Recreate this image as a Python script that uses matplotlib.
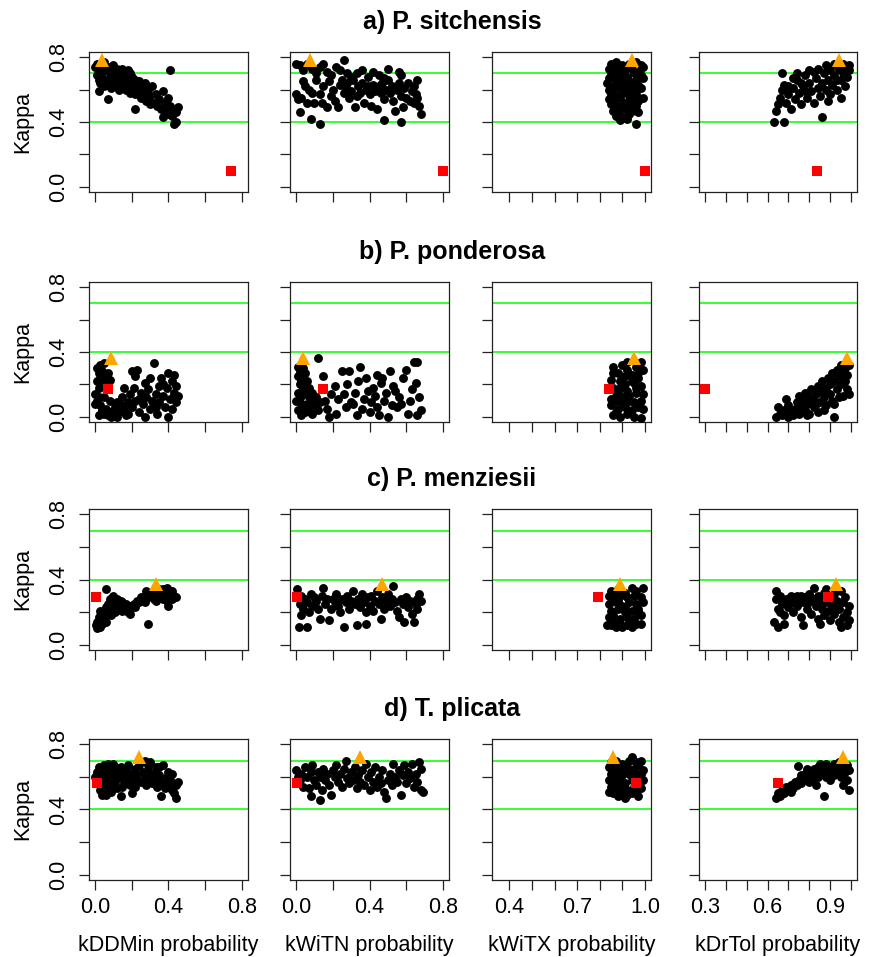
import matplotlib
matplotlib.use("Agg")
import matplotlib.pyplot as plt

plt.rcParams['font.family'] = ['Liberation Sans', 'DejaVu Sans']

# ---- data: (probability, kappa) for each model ----
# a) P. sitchensis
sit_ddmin = [(0.00,0.74),(0.01,0.76),(0.02,0.73),(0.03,0.71),(0.04,0.75),(0.05,0.77),(0.06,0.72),(0.07,0.74),
             (0.08,0.70),(0.09,0.73),(0.10,0.75),(0.11,0.71),(0.12,0.73),(0.13,0.72),(0.14,0.70),(0.15,0.73),
             (0.16,0.71),(0.17,0.69),(0.18,0.72),(0.19,0.70),(0.01,0.69),(0.02,0.66),(0.03,0.64),(0.04,0.68),
             (0.05,0.62),(0.06,0.66),(0.07,0.63),(0.08,0.67),(0.09,0.61),(0.10,0.65),(0.11,0.62),(0.12,0.68),
             (0.13,0.60),(0.14,0.64),(0.15,0.66),(0.16,0.62),(0.17,0.60),(0.18,0.65),(0.19,0.58),(0.20,0.63),
             (0.20,0.68),(0.21,0.61),(0.22,0.66),(0.22,0.57),(0.23,0.62),(0.24,0.59),(0.24,0.65),(0.25,0.55),
             (0.26,0.61),(0.27,0.58),(0.27,0.64),(0.28,0.53),(0.29,0.60),(0.30,0.56),(0.30,0.51),(0.31,0.62),
             (0.32,0.52),(0.33,0.57),(0.34,0.50),(0.35,0.54),(0.36,0.48),(0.37,0.59),(0.37,0.43),(0.38,0.52),
             (0.39,0.47),(0.40,0.55),(0.40,0.45),(0.41,0.50),(0.42,0.44),(0.43,0.48),(0.44,0.40),(0.44,0.46),
             (0.45,0.49),(0.43,0.39),(0.02,0.59),(0.07,0.54),(0.22,0.48),(0.41,0.72)]
sit_witn = [(0.00,0.76),(0.02,0.75),(0.04,0.72),(0.06,0.76),(0.09,0.73),(0.11,0.70),(0.13,0.74),(0.15,0.76),
            (0.17,0.71),(0.19,0.69),(0.22,0.74),(0.24,0.72),(0.26,0.78),(0.28,0.70),(0.30,0.68),(0.33,0.70),
            (0.36,0.72),(0.39,0.68),(0.42,0.71),(0.45,0.69),(0.48,0.67),(0.50,0.73),(0.56,0.71),(0.57,0.69),
            (0.00,0.57),(0.01,0.54),(0.02,0.46),(0.03,0.55),(0.04,0.65),(0.05,0.62),(0.06,0.52),(0.07,0.60),
            (0.08,0.42),(0.09,0.58),(0.10,0.52),(0.11,0.66),(0.13,0.39),(0.13,0.57),(0.14,0.52),(0.15,0.62),
            (0.17,0.49),(0.18,0.65),(0.19,0.56),(0.20,0.60),(0.21,0.53),(0.23,0.49),(0.24,0.63),(0.25,0.66),
            (0.26,0.58),(0.27,0.61),(0.28,0.64),(0.29,0.55),(0.30,0.59),(0.31,0.66),(0.32,0.49),(0.33,0.56),
            (0.34,0.62),(0.35,0.58),(0.36,0.64),(0.37,0.52),(0.38,0.60),(0.39,0.62),(0.40,0.57),(0.41,0.50),
            (0.42,0.63),(0.43,0.59),(0.44,0.48),(0.45,0.62),(0.46,0.58),(0.47,0.64),(0.48,0.54),(0.49,0.60),
            (0.50,0.66),(0.48,0.41),(0.51,0.58),(0.52,0.62),(0.53,0.53),(0.54,0.47),(0.55,0.60),(0.56,0.64),
            (0.57,0.56),(0.58,0.49),(0.59,0.61),(0.60,0.55),(0.61,0.64),(0.62,0.53),(0.63,0.59),(0.64,0.62),
            (0.65,0.57),(0.66,0.55),(0.67,0.50),(0.68,0.45),(0.66,0.66),(0.57,0.40),(0.64,0.52)]
sit_witx = [(0.85,0.76),(0.87,0.77),(0.90,0.75),(0.93,0.76),(0.96,0.77),(0.98,0.75),(0.84,0.73),(0.86,0.72),
            (0.88,0.74),(0.91,0.72),(0.94,0.73),(0.97,0.71),(0.99,0.74),(0.85,0.70),(0.88,0.69),(0.90,0.71),
            (0.92,0.68),(0.95,0.70),(0.98,0.69),(0.84,0.67),(0.87,0.66),(0.89,0.67),(0.93,0.65),(0.96,0.66),
            (0.99,0.67),(0.83,0.64),(0.85,0.62),(0.88,0.63),(0.91,0.64),(0.94,0.62),(0.97,0.63),(0.84,0.60),
            (0.86,0.59),(0.89,0.61),(0.92,0.60),(0.95,0.59),(0.98,0.61),(0.85,0.57),(0.87,0.56),(0.90,0.58),
            (0.93,0.56),(0.96,0.57),(0.84,0.54),(0.86,0.53),(0.89,0.55),(0.91,0.52),(0.94,0.54),(0.97,0.53),
            (0.99,0.55),(0.85,0.51),(0.88,0.50),(0.90,0.49),(0.93,0.51),(0.96,0.50),(0.86,0.47),(0.88,0.46),
            (0.91,0.48),(0.94,0.47),(0.97,0.46),(0.87,0.44),(0.90,0.43),(0.93,0.45),(0.89,0.41),(0.92,0.42),
            (0.96,0.39)]
sit_drtol = [(0.63,0.40),(0.68,0.40),(0.64,0.47),(0.65,0.51),(0.66,0.55),(0.67,0.60),(0.68,0.63),(0.67,0.70),
             (0.69,0.52),(0.70,0.57),(0.71,0.48),(0.72,0.61),(0.73,0.54),(0.74,0.66),(0.75,0.58),(0.76,0.51),
             (0.77,0.62),(0.78,0.69),(0.79,0.55),(0.80,0.64),(0.80,0.72),(0.81,0.59),(0.82,0.52),(0.83,0.67),
             (0.84,0.61),(0.84,0.73),(0.85,0.56),(0.86,0.64),(0.86,0.43),(0.87,0.70),(0.88,0.60),(0.88,0.75),
             (0.89,0.66),(0.90,0.57),(0.90,0.72),(0.91,0.63),(0.92,0.69),(0.92,0.76),(0.93,0.60),(0.94,0.73),
             (0.95,0.66),(0.95,0.55),(0.96,0.70),(0.96,0.76),(0.97,0.62),(0.97,0.74),(0.98,0.68),(0.99,0.72),
             (0.99,0.75),(0.74,0.70),(0.78,0.59),(0.82,0.71),(0.76,0.64),(0.72,0.67),(0.70,0.62),(0.93,0.66),
             (0.89,0.53)]

# b) P. ponderosa
pon_ddmin = [(0.01,0.30),(0.02,0.27),(0.03,0.32),(0.04,0.28),(0.05,0.33),(0.06,0.25),(0.01,0.22),(0.02,0.18),
             (0.03,0.24),(0.04,0.20),(0.06,0.21),(0.07,0.27),(0.08,0.23),(0.00,0.14),(0.01,0.10),(0.02,0.12),
             (0.03,0.07),(0.04,0.04),(0.05,0.02),(0.06,0.05),(0.07,0.01),(0.08,0.03),(0.09,0.00),(0.10,0.02),
             (0.02,0.01),(0.00,0.08),(0.05,0.12),(0.08,0.10),(0.11,0.06),(0.12,0.09),(0.13,0.03),(0.14,0.07),
             (0.15,0.12),(0.16,0.05),(0.17,0.01),(0.18,0.09),(0.19,0.14),(0.20,0.06),(0.21,0.18),(0.22,0.10),
             (0.22,0.25),(0.23,0.29),(0.24,0.03),(0.25,0.15),(0.26,0.08),(0.27,0.21),(0.28,0.12),(0.29,0.17),
             (0.30,0.24),(0.30,0.05),(0.31,0.10),(0.32,0.33),(0.33,0.14),(0.34,0.02),(0.35,0.19),(0.35,0.09),
             (0.36,0.24),(0.37,0.13),(0.38,0.06),(0.39,0.18),(0.40,0.27),(0.40,0.00),(0.41,0.11),(0.42,0.22),
             (0.42,0.05),(0.43,0.15),(0.44,0.09),(0.44,0.19),(0.45,0.13),(0.43,0.26),(0.20,0.28),(0.16,0.18),
             (0.12,0.00),(0.27,0.00),(0.33,0.06),(0.37,0.20),(0.24,0.11),(0.18,0.02)]
pon_witn = [(0.01,0.31),(0.02,0.28),(0.03,0.32),(0.01,0.25),(0.03,0.23),(0.05,0.27),(0.02,0.20),(0.04,0.18),
            (0.06,0.22),(0.01,0.15),(0.03,0.13),(0.05,0.15),(0.07,0.12),(0.02,0.09),(0.04,0.06),(0.06,0.08),
            (0.08,0.10),(0.01,0.04),(0.03,0.01),(0.05,0.03),(0.07,0.05),(0.09,0.02),(0.00,0.10),(0.10,0.07),
            (0.11,0.12),(0.12,0.04),(0.13,0.09),(0.07,0.18),(0.09,0.15),(0.04,0.30),(0.12,0.36),(0.15,0.25),
            (0.16,0.10),(0.17,0.05),(0.18,0.00),(0.19,0.14),(0.21,0.19),(0.22,0.02),(0.23,0.11),(0.25,0.28),
            (0.26,0.14),(0.27,0.06),(0.28,0.20),(0.29,0.28),(0.30,0.09),(0.31,0.08),(0.32,0.15),(0.33,0.01),
            (0.34,0.22),(0.35,0.31),(0.36,0.05),(0.37,0.11),(0.38,0.24),(0.39,0.16),(0.40,0.03),(0.41,0.09),
            (0.42,0.18),(0.43,0.13),(0.44,0.06),(0.45,0.01),(0.46,0.21),(0.47,0.24),(0.48,0.10),(0.49,0.15),
            (0.50,0.00),(0.51,0.28),(0.52,0.07),(0.53,0.19),(0.55,0.06),(0.56,0.12),(0.57,0.08),(0.58,0.24),
            (0.60,0.29),(0.61,0.02),(0.62,0.10),(0.63,0.17),(0.64,0.34),(0.66,0.34),(0.67,0.12),(0.68,0.04),
            (0.66,0.01),(0.65,0.21),(0.54,0.16),(0.44,0.26)]
pon_witx = [(0.86,0.31),(0.85,0.23),(0.88,0.27),(0.92,0.29),(0.96,0.31),(0.99,0.29),(0.92,0.34),(0.98,0.34),
            (0.90,0.32),(0.94,0.26),(0.97,0.24),(0.89,0.22),(0.91,0.20),(0.95,0.21),(0.98,0.19),(0.86,0.18),
            (0.88,0.15),(0.92,0.16),(0.96,0.15),(0.99,0.14),(0.85,0.11),(0.87,0.10),(0.90,0.12),(0.93,0.10),
            (0.95,0.09),(0.98,0.10),(0.85,0.07),(0.88,0.05),(0.91,0.06),(0.94,0.04),(0.97,0.06),(0.99,0.05),
            (0.86,0.01),(0.89,0.00),(0.92,0.02),(0.95,0.00),(0.98,-0.01),(0.87,0.03),(0.90,0.09),(0.93,0.13),
            (0.96,0.18),(0.89,0.18),(0.94,0.22),(0.91,0.25),(0.87,0.13),(0.97,0.27),(0.86,0.27)]
pon_drtol = [(0.64,0.00),(0.65,0.06),(0.66,0.02),(0.67,0.01),(0.68,0.04),(0.69,0.11),(0.70,0.07),(0.71,0.03),
             (0.72,0.01),(0.73,0.05),(0.74,0.09),(0.75,0.13),(0.75,0.02),(0.76,0.06),(0.77,0.10),(0.78,0.04),
             (0.78,0.15),(0.79,0.08),(0.80,0.12),(0.80,0.02),(0.81,0.17),(0.82,0.06),(0.82,0.10),(0.83,0.14),
             (0.84,0.19),(0.84,0.03),(0.85,0.09),(0.86,0.16),(0.86,0.22),(0.87,0.12),(0.88,0.18),(0.88,0.07),
             (0.89,0.24),(0.90,0.14),(0.90,0.20),(0.91,0.27),(0.91,0.10),(0.92,0.00),(0.92,0.22),(0.93,0.17),
             (0.93,0.29),(0.94,0.25),(0.95,0.20),(0.95,0.32),(0.96,0.27),(0.96,0.13),(0.97,0.30),(0.97,0.22),
             (0.98,0.17),(0.98,0.26),(0.99,0.32),(0.99,0.14),(0.94,0.12),(0.83,0.08),(0.79,0.01),(0.87,0.04),
             (0.76,0.11),(0.70,0.00),(0.92,0.08)]

# c) P. menziesii
men_ddmin = [(0.005,0.12),(0.02,0.11),(0.03,0.15),(0.01,0.14),(0.02,0.17),(0.04,0.19),(0.03,0.21),(0.05,0.16),
             (0.04,0.13),(0.06,0.23),(0.05,0.20),(0.06,0.34),(0.07,0.25),(0.07,0.19),(0.08,0.28),(0.08,0.22),
             (0.09,0.26),(0.10,0.30),(0.10,0.24),(0.11,0.26),(0.11,0.20),(0.12,0.28),(0.13,0.22),(0.13,0.25),
             (0.14,0.27),(0.15,0.21),(0.16,0.23),(0.17,0.25),(0.18,0.20),(0.19,0.19),(0.20,0.23),(0.21,0.25),
             (0.22,0.23),(0.23,0.27),(0.24,0.26),(0.25,0.29),(0.26,0.28),(0.27,0.30),(0.28,0.33),(0.29,0.13),
             (0.29,0.29),(0.30,0.31),(0.31,0.32),(0.32,0.28),(0.33,0.30),(0.34,0.29),(0.35,0.30),(0.36,0.33),
             (0.37,0.28),(0.38,0.31),(0.39,0.35),(0.39,0.27),(0.40,0.31),(0.40,0.24),(0.41,0.29),(0.42,0.28),
             (0.43,0.30),(0.44,0.29),(0.42,0.33),(0.37,0.34),(0.33,0.27),(0.35,0.34),(0.27,0.26),(0.19,0.24),
             (0.15,0.26),(0.09,0.18),(0.06,0.14),(0.01,0.10),(0.03,0.11)]
men_witn = [(0.005,0.34),(0.015,0.11),(0.02,0.25),(0.03,0.18),(0.03,0.30),(0.04,0.22),(0.05,0.28),(0.06,0.11),
            (0.06,0.26),(0.07,0.20),(0.08,0.31),(0.09,0.24),(0.10,0.29),(0.11,0.27),(0.12,0.22),(0.13,0.16),
            (0.14,0.30),(0.15,0.35),(0.16,0.25),(0.17,0.28),(0.18,0.15),(0.19,0.22),(0.20,0.28),(0.21,0.26),
            (0.22,0.31),(0.23,0.24),(0.24,0.20),(0.25,0.28),(0.26,0.11),(0.27,0.26),(0.28,0.30),(0.29,0.22),
            (0.30,0.27),(0.31,0.33),(0.32,0.25),(0.33,0.12),(0.34,0.28),(0.35,0.23),(0.36,0.31),(0.37,0.26),
            (0.38,0.13),(0.38,0.20),(0.39,0.29),(0.40,0.24),(0.41,0.30),(0.42,0.21),(0.43,0.27),(0.44,0.33),
            (0.45,0.25),(0.46,0.16),(0.47,0.29),(0.48,0.22),(0.49,0.27),(0.50,0.31),(0.51,0.24),(0.52,0.28),
            (0.53,0.36),(0.54,0.26),(0.55,0.21),(0.56,0.17),(0.57,0.28),(0.58,0.25),(0.59,0.14),(0.60,0.29),
            (0.61,0.23),(0.62,0.27),(0.63,0.19),(0.64,0.14),(0.65,0.25),(0.66,0.28),(0.67,0.31),(0.68,0.27),
            (0.66,0.22)]
men_witx = [(0.83,0.12),(0.85,0.12),(0.87,0.11),(0.90,0.11),(0.92,0.12),(0.94,0.11),(0.98,0.13),(0.99,0.35),
            (0.94,0.35),(0.85,0.33),(0.88,0.34),(0.91,0.32),(0.96,0.33),(0.84,0.30),(0.86,0.28),(0.89,0.30),
            (0.92,0.29),(0.95,0.30),(0.98,0.29),(0.84,0.25),(0.87,0.26),(0.90,0.24),(0.93,0.26),(0.96,0.25),
            (0.99,0.26),(0.85,0.21),(0.88,0.22),(0.91,0.20),(0.94,0.21),(0.97,0.22),(0.84,0.17),(0.86,0.18),
            (0.89,0.16),(0.92,0.17),(0.95,0.16),(0.98,0.18),(0.86,0.14),(0.89,0.13),(0.93,0.14),(0.96,0.13),
            (0.88,0.27),(0.97,0.20),(0.91,0.23),(0.87,0.31)]
men_drtol = [(0.63,0.14),(0.64,0.33),(0.65,0.11),(0.64,0.28),(0.65,0.22),(0.66,0.30),(0.67,0.25),(0.68,0.18),
             (0.68,0.13),(0.69,0.28),(0.70,0.23),(0.71,0.30),(0.72,0.26),(0.72,0.20),(0.73,0.29),(0.74,0.24),
             (0.75,0.27),(0.76,0.17),(0.76,0.30),(0.77,0.12),(0.77,0.26),(0.78,0.29),(0.79,0.22),(0.80,0.31),
             (0.80,0.26),(0.81,0.19),(0.82,0.35),(0.82,0.28),(0.83,0.24),(0.84,0.30),(0.84,0.16),(0.85,0.13),
             (0.85,0.27),(0.86,0.22),(0.87,0.32),(0.87,0.18),(0.88,0.34),(0.88,0.26),(0.89,0.21),(0.90,0.29),
             (0.90,0.15),(0.91,0.24),(0.92,0.31),(0.92,0.19),(0.93,0.27),(0.94,0.22),(0.95,0.33),(0.95,0.11),
             (0.96,0.26),(0.96,0.17),(0.97,0.29),(0.98,0.20),(0.98,0.12),(0.99,0.24),(0.99,0.15),(0.94,0.14),
             (0.70,0.27),(0.66,0.20),(0.74,0.30),(0.83,0.28),(0.79,0.27),(0.86,0.29)]

# d) T. plicata
pli_ddmin = [(0.00,0.60),(0.01,0.63),(0.02,0.58),(0.02,0.66),(0.03,0.52),(0.03,0.61),(0.04,0.49),(0.04,0.64),
             (0.05,0.56),(0.05,0.67),(0.06,0.52),(0.06,0.60),(0.07,0.63),(0.07,0.68),(0.08,0.55),(0.08,0.58),
             (0.09,0.51),(0.09,0.65),(0.10,0.61),(0.10,0.68),(0.11,0.57),(0.12,0.64),(0.12,0.53),(0.13,0.60),
             (0.14,0.48),(0.14,0.66),(0.15,0.62),(0.16,0.57),(0.17,0.64),(0.18,0.60),(0.18,0.67),(0.19,0.55),
             (0.20,0.62),(0.21,0.58),(0.22,0.65),(0.22,0.54),(0.23,0.61),(0.24,0.67),(0.25,0.57),(0.26,0.63),
             (0.27,0.59),(0.27,0.70),(0.28,0.55),(0.29,0.64),(0.30,0.69),(0.30,0.60),(0.31,0.56),(0.32,0.62),
             (0.33,0.58),(0.33,0.66),(0.34,0.54),(0.35,0.61),(0.35,0.66),(0.36,0.48),(0.37,0.57),(0.37,0.67),
             (0.38,0.53),(0.39,0.60),(0.40,0.55),(0.40,0.63),(0.41,0.58),(0.42,0.52),(0.42,0.62),(0.43,0.50),
             (0.44,0.47),(0.44,0.55),(0.45,0.57),(0.29,0.67),(0.15,0.54),(0.20,0.50),(0.06,0.49),(0.11,0.66)]
pli_witn = [(0.00,0.64),(0.01,0.60),(0.02,0.58),(0.03,0.62),(0.04,0.54),(0.05,0.66),(0.06,0.60),(0.07,0.53),
            (0.08,0.48),(0.08,0.63),(0.09,0.67),(0.10,0.58),(0.11,0.55),(0.12,0.63),(0.13,0.46),(0.13,0.60),
            (0.14,0.52),(0.15,0.65),(0.16,0.58),(0.17,0.62),(0.18,0.55),(0.19,0.49),(0.20,0.64),(0.21,0.60),
            (0.22,0.67),(0.23,0.57),(0.24,0.62),(0.25,0.54),(0.26,0.65),(0.27,0.70),(0.28,0.59),(0.29,0.56),
            (0.30,0.63),(0.31,0.58),(0.32,0.66),(0.33,0.53),(0.34,0.61),(0.35,0.57),(0.36,0.64),(0.37,0.55),
            (0.38,0.68),(0.39,0.60),(0.40,0.52),(0.41,0.63),(0.42,0.57),(0.43,0.66),(0.44,0.54),(0.45,0.60),
            (0.46,0.56),(0.47,0.64),(0.48,0.51),(0.49,0.47),(0.50,0.58),(0.51,0.62),(0.52,0.55),(0.53,0.68),
            (0.54,0.60),(0.55,0.57),(0.56,0.64),(0.57,0.49),(0.58,0.61),(0.59,0.67),(0.60,0.56),(0.61,0.63),
            (0.62,0.59),(0.63,0.68),(0.64,0.54),(0.65,0.62),(0.66,0.57),(0.67,0.69),(0.68,0.52),(0.68,0.65),
            (0.69,0.51)]
pli_witx = [(0.85,0.69),(0.87,0.70),(0.90,0.68),(0.93,0.70),(0.94,0.72),(0.96,0.69),(0.98,0.70),(0.84,0.66),
            (0.86,0.65),(0.89,0.67),(0.92,0.66),(0.95,0.65),(0.97,0.67),(0.99,0.64),(0.85,0.62),(0.88,0.63),
            (0.90,0.61),(0.93,0.62),(0.96,0.61),(0.98,0.62),(0.84,0.58),(0.86,0.57),(0.89,0.59),(0.91,0.56),
            (0.94,0.58),(0.97,0.59),(0.99,0.58),(0.85,0.54),(0.87,0.53),(0.90,0.55),(0.92,0.52),(0.95,0.54),
            (0.98,0.53),(0.84,0.51),(0.86,0.50),(0.89,0.51),(0.92,0.49),(0.94,0.50),(0.97,0.48),(0.88,0.48),
            (0.91,0.47),(0.96,0.51),(0.87,0.60),(0.95,0.63),(0.91,0.64),(0.88,0.56)]
pli_drtol = [(0.64,0.47),(0.65,0.50),(0.66,0.48),(0.67,0.52),(0.68,0.50),(0.69,0.54),(0.70,0.52),(0.71,0.55),
             (0.72,0.53),(0.73,0.57),(0.74,0.55),(0.745,0.665),(0.75,0.58),(0.76,0.56),(0.77,0.60),(0.78,0.58),
             (0.78,0.62),(0.79,0.60),(0.80,0.63),(0.80,0.57),(0.81,0.61),(0.82,0.65),(0.82,0.59),(0.83,0.63),
             (0.84,0.66),(0.84,0.60),(0.85,0.64),(0.86,0.62),(0.86,0.67),(0.87,0.48),(0.87,0.65),(0.88,0.60),
             (0.88,0.68),(0.89,0.63),(0.90,0.66),(0.90,0.58),(0.91,0.64),(0.92,0.68),(0.92,0.61),(0.93,0.66),
             (0.94,0.63),(0.94,0.69),(0.95,0.60),(0.96,0.66),(0.96,0.55),(0.97,0.63),(0.98,0.67),(0.98,0.58),
             (0.99,0.64),(0.99,0.52),(0.71,0.51),(0.76,0.61),(0.83,0.55),(0.85,0.68),(0.79,0.65)]

# best model (orange triangle) and worst/reference model (red square): kappa, then x per column
best_kappa = [0.78, 0.36, 0.37, 0.72]
best_x = [[0.038, 0.074, 0.94, 0.94], [0.087, 0.036, 0.95, 0.978],
          [0.33, 0.47, 0.89, 0.927], [0.24, 0.35, 0.86, 0.96]]
worst_kappa = [0.10, 0.17, 0.29, 0.56]
worst_x = [[0.74, 0.80, 1.00, 0.837], [0.071, 0.15, 0.84, 0.30],
           [0.005, 0.005, 0.79, 0.888], [0.01, 0.005, 0.96, 0.65]]

titles = ["a) P. sitchensis", "b) P. ponderosa", "c) P. menziesii", "d) T. plicata"]
xlabels = ["kDDMin probability", "kWiTN probability", "kWiTX probability", "kDrTol probability"]
panels = [[sit_ddmin, sit_witn, sit_witx, sit_drtol],
          [pon_ddmin, pon_witn, pon_witx, pon_drtol],
          [men_ddmin, men_witn, men_witx, men_drtol],
          [pli_ddmin, pli_witn, pli_witx, pli_drtol]]

xticks = [[0, 0.2, 0.4, 0.6, 0.8], [0, 0.2, 0.4, 0.6, 0.8],
          [0.4, 0.5, 0.6, 0.7, 0.8, 0.9, 1.0], [0.3, 0.4, 0.5, 0.6, 0.7, 0.8, 0.9, 1.0]]
xticklabels = [["0.0", "", "0.4", "", "0.8"], ["0.0", "", "0.4", "", "0.8"],
               ["0.4", "", "", "0.7", "", "", "1.0"], ["0.3", "", "", "0.6", "", "", "0.9", ""]]
xranges = [(0, 0.8), (0, 0.8), (0.35, 1.0), (0.3, 1.0)]

W, H = 874, 957
col_px = [(89, 248), (290, 449), (492, 651), (699, 857)]
row_px = [(52, 192), (282, 422), (509, 650), (739, 880)]

fig = plt.figure(figsize=(W / 100, H / 100), dpi=100)
fs = 15.5

for r in range(4):
    t, b = row_px[r]
    for c in range(4):
        l, rr = col_px[c]
        ax = fig.add_axes([l / W, 1 - b / H, (rr - l) / W, (b - t) / H])
        pts = panels[r][c]
        ax.plot([p[0] for p in pts], [p[1] for p in pts], 'o', color='black', ms=6.4, mew=0, zorder=3)
        ax.axhline(0.4, color='#00ff00', lw=1.1, zorder=2)
        ax.axhline(0.7, color='#00ff00', lw=1.1, zorder=2)
        ax.plot(best_x[r][c], best_kappa[r], '^', color='#ffa500', ms=10.5, mew=0, zorder=4)
        ax.plot(worst_x[r][c], worst_kappa[r], 's', color='#ff0000', ms=7.8, mew=0, zorder=4)

        lo, hi = xranges[c]
        pad = 0.04 * (hi - lo)
        ax.set_xlim(lo - pad, hi + pad)
        ax.set_ylim(-0.032, 0.832)
        ax.set_xticks(xticks[c])
        ax.set_yticks([0, 0.2, 0.4, 0.6, 0.8])
        if r == 3:
            ax.set_xticklabels(xticklabels[c], fontsize=fs)
        else:
            ax.set_xticklabels([])
        if c == 0:
            ax.set_yticklabels(["0.0", "", "0.4", "", "0.8"], fontsize=fs, rotation=90, va='center')
        else:
            ax.set_yticklabels([])
        ax.tick_params(direction='out', length=7, width=0.9, color='#222222')
        ax.tick_params(axis='x', pad=5)
        ax.tick_params(axis='y', pad=7)
        for sp in ax.spines.values():
            sp.set_linewidth(0.9)
            sp.set_color('#222222')

    # panel row title and y label
    fig.text(452 / W, 1 - (t - 23) / H, titles[r], ha='center', va='baseline',
             fontsize=18, fontweight='bold')
    fig.text(23 / W, 1 - ((t + b) / 2) / H, "Kappa", rotation=90, ha='center', va='center', fontsize=fs)

for c in range(4):
    l, rr = col_px[c]
    fig.text((l + rr) / 2 / W, 1 - 951 / H, xlabels[c], ha='center', va='baseline', fontsize=fs)

fig.savefig("out.png", dpi=100)
